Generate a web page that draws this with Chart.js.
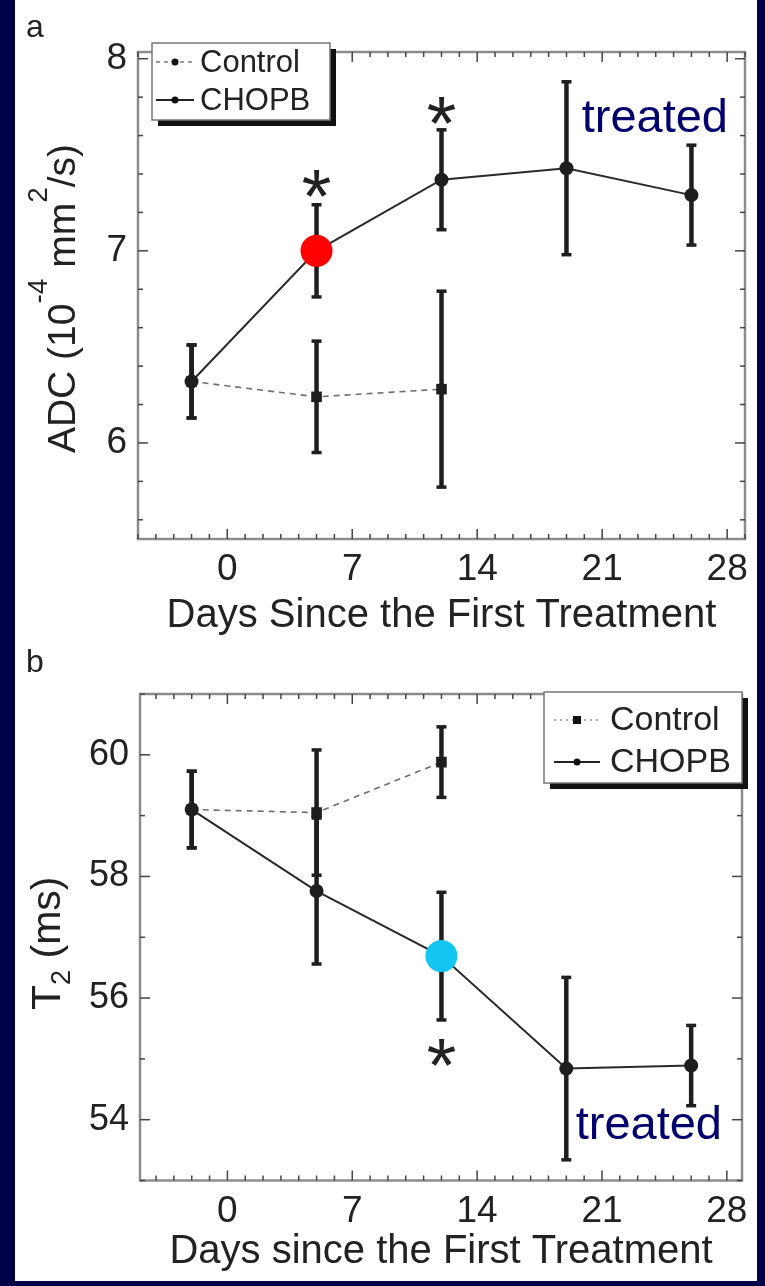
<!DOCTYPE html>
<html>
<head>
<meta charset="utf-8">
<script src="https://cdn.jsdelivr.net/npm/chart.js@4.4.1/dist/chart.umd.min.js"></script>
<style>
  html, body { margin: 0; padding: 0; background: #000046; }
  body { width: 765px; height: 1286px; position: relative; overflow: hidden; }
  #sheet { position: absolute; left: 15px; top: 0; width: 742px; height: 1281px; background: #fff; }
  canvas { position: absolute; left: 0; }
  #chartA { top: 0; }
  #chartB { top: 640px; }
</style>
</head>
<body>
<div id="sheet"></div>
<canvas id="chartA" width="765" height="640"></canvas>
<canvas id="chartB" width="765" height="646"></canvas>
<script>
// values (mean +/- error)
const seriesNames = ['Control', 'CHOPB'];
const xTicks = [0, 7, 14, 21, 28];

// a: ADC (10^-4 mm^2/s)
const controlDaysA = [-2, 5, 12];
const controlADC = [6.32, 6.24, 6.28];
const controlADCErr = [0.19, 0.29, 0.51];
const chopbDaysA = [-2, 5, 12, 19, 26];
const chopbADC = [6.32, 7.0, 7.37, 7.43, 7.29];
const chopbADCErr = [0.19, 0.24, 0.26, 0.45, 0.26];
const adcTicks = [6, 7, 8];
const highlightDayA = [5];
const highlightADC = [7.0];
const starDaysA = [5, 12];
const starADC = [7.38, 7.76];

// b: T2 (ms)
const controlDaysB = [-2, 5, 12];
const controlT2 = [59.1, 59.05, 59.88];
const controlT2Err = [0.63, 1.03, 0.58];
const chopbDaysB = [-2, 5, 12, 19, 26];
const chopbT2 = [59.1, 57.76, 56.69, 54.84, 54.89];
const chopbT2Err = [0.63, 1.2, 1.05, 1.5, 0.66];
const t2Ticks = [54, 56, 58, 60];
const highlightDayB = [12];
const highlightT2 = [56.69];
const starDaysB = [12];
const starT2 = [55.19];

const FONT = "'Liberation Sans', Arial, Helvetica, sans-serif";
const INK = '#1e1e1e';

const pts = (xs, ys) => xs.map((x, i) => ({ x, y: ys[i] }));

function line(ctx, x1, y1, x2, y2) {
  ctx.beginPath();
  ctx.moveTo(x1, y1);
  ctx.lineTo(x2, y2);
  ctx.stroke();
}

// text with super/subscript pieces, optionally rotated for the y title
function drawRich(ctx, segs, size, cx, cy, vertical) {
  let total = 0;
  segs.forEach(s => {
    ctx.font = `${Math.round(size * (s.s || 1))}px ${FONT}`;
    s.w = ctx.measureText(s.t).width;
    total += s.w;
  });
  ctx.save();
  ctx.translate(cx, cy);
  if (vertical) ctx.rotate(-Math.PI / 2);
  ctx.textBaseline = 'alphabetic';
  ctx.textAlign = 'left';
  let x = -total / 2;
  segs.forEach(s => {
    ctx.font = `${Math.round(size * (s.s || 1))}px ${FONT}`;
    ctx.fillText(s.t, x, -(s.dy || 0) * size);
    x += s.w;
  });
  ctx.restore();
}

const errorBars = {
  id: 'errorBars',
  beforeDatasetsDraw(chart) {
    const { ctx, scales: { x, y } } = chart;
    ctx.save();
    ctx.strokeStyle = INK;
    chart.data.datasets.forEach(ds => {
      if (!ds.errors) return;
      ds.data.forEach((p, j) => {
        const px = x.getPixelForValue(p.x);
        const top = y.getPixelForValue(p.y + ds.errors[j]);
        const bot = y.getPixelForValue(p.y - ds.errors[j]);
        ctx.lineWidth = 4.5;
        line(ctx, px, top, px, bot);
        ctx.lineWidth = 3.5;
        line(ctx, px - 5, top, px + 5, top);
        line(ctx, px - 5, bot, px + 5, bot);
      });
    });
    ctx.restore();
  }
};

const decor = {
  id: 'decor',
  afterDraw(chart, args, o) {
    const { ctx, chartArea: ca, scales: { x, y } } = chart;
    ctx.save();

    // frame
    ctx.strokeStyle = '#8c8c8c';
    ctx.lineWidth = 2.5;
    ctx.strokeRect(ca.left, ca.top, ca.right - ca.left, ca.bottom - ca.top);

    // inward ticks on all four sides
    ctx.strokeStyle = '#444';
    ctx.lineWidth = 1.5;
    for (let d = Math.ceil(x.min); d <= Math.floor(x.max); d++) {
      const px = x.getPixelForValue(d);
      const len = d % 7 === 0 ? 10 : 5;
      line(ctx, px, ca.bottom, px, ca.bottom - len);
      line(ctx, px, ca.top, px, ca.top + len);
    }
    const step = o.yMinor;
    for (let v = Math.ceil(y.min / step) * step; v <= y.max + 1e-9; v += step) {
      const py = y.getPixelForValue(v);
      const major = o.yMajor.some(m => Math.abs(m - v) < 1e-6);
      const len = major ? 10 : 5;
      line(ctx, ca.left, py, ca.left + len, py);
      line(ctx, ca.right, py, ca.right - len, py);
    }

    ctx.fillStyle = '#222';
    // panel letter
    ctx.font = `32px ${FONT}`;
    ctx.textAlign = 'left';
    ctx.textBaseline = 'alphabetic';
    ctx.fillText(o.letter, 26, o.letterY);

    // axis titles
    ctx.font = `40px ${FONT}`;
    ctx.textAlign = 'center';
    ctx.fillText(o.xTitle, (ca.left + ca.right) / 2, ca.bottom + o.xTitleGap);
    drawRich(ctx, o.yTitle, o.yTitleSize, o.yTitleX, (ca.top + ca.bottom) / 2 + o.yTitleShift, true);

    // significance stars
    ctx.font = `76px ${FONT}`;
    ctx.textAlign = 'center';
    o.stars.forEach(s => {
      ctx.fillText('*', x.getPixelForValue(s.x), y.getPixelForValue(s.y) + 44);
    });

    // "treated" note
    ctx.fillStyle = '#00006e';
    ctx.font = `47px ${FONT}`;
    ctx.textAlign = 'right';
    ctx.fillText('treated', ca.right + o.treated.dx, o.treated.fromTop ? ca.top + o.treated.dy : ca.bottom + o.treated.dy);

    // legend box with drop shadow
    const L = o.legend;
    ctx.fillStyle = '#111';
    ctx.fillRect(L.x + 6, L.y + 6, L.w, L.h);
    ctx.fillStyle = '#fff';
    ctx.fillRect(L.x, L.y, L.w, L.h);
    ctx.strokeStyle = '#777';
    ctx.lineWidth = 1.5;
    ctx.strokeRect(L.x, L.y, L.w, L.h);
    chart.data.datasets.slice(0, 2).forEach((ds, i) => {
      const ry = L.y + L.rows[i];
      ctx.strokeStyle = i === 0 ? '#555' : '#222';
      ctx.lineWidth = i === 0 ? 1.2 : 2;
      ctx.setLineDash(i === 0 ? L.dash : []);
      line(ctx, L.x + L.s0, ry, L.x + L.s1, ry);
      ctx.setLineDash([]);
      ctx.fillStyle = '#111';
      const mx = L.x + (L.s0 + L.s1) / 2;
      if (i === 0 && L.square) {
        ctx.fillRect(mx - 4, ry - 4, 8, 8);
      } else {
        ctx.beginPath();
        ctx.arc(mx, ry, 3.5, 0, Math.PI * 2);
        ctx.fill();
      }
      ctx.fillStyle = '#222';
      ctx.font = `${L.size}px ${FONT}`;
      ctx.textAlign = 'left';
      ctx.textBaseline = 'middle';
      ctx.fillText(ds.label, L.x + L.tx, ry + 1);
    });
    ctx.restore();
  }
};

function makeChart(id, cfg) {
  const datasets = [
    {
      label: seriesNames[0],
      data: pts(cfg.cDays, cfg.cVals),
      errors: cfg.cErr,
      borderColor: '#6e6e6e',
      borderWidth: 1.6,
      borderDash: [6, 5],
      pointStyle: 'rect',
      pointRadius: 7.5,
      pointBackgroundColor: INK,
      pointBorderWidth: 0,
      order: 2
    },
    {
      label: seriesNames[1],
      data: pts(cfg.bDays, cfg.bVals),
      errors: cfg.bErr,
      borderColor: '#2a2a2a',
      borderWidth: 2,
      pointStyle: 'circle',
      pointRadius: 7,
      pointBackgroundColor: INK,
      pointBorderWidth: 0,
      order: 1
    },
    {
      label: 'highlight',
      data: pts(cfg.hDays, cfg.hVals),
      showLine: false,
      pointRadius: 16,
      pointBackgroundColor: cfg.hColor,
      pointBorderWidth: 0,
      order: 0
    }
  ];
  return new Chart(document.getElementById(id), {
    type: 'line',
    data: { datasets },
    options: {
      responsive: false,
      animation: false,
      layout: { padding: cfg.padding },
      plugins: {
        legend: { display: false },
        tooltip: { enabled: false },
        decor: cfg.decor
      },
      scales: {
        x: {
          type: 'linear',
          min: cfg.xMin,
          max: cfg.xMax,
          afterBuildTicks: s => { s.ticks = xTicks.map(v => ({ value: v })); },
          afterFit: s => { s.height = cfg.xHeight; },
          grid: { display: false, drawTicks: false },
          border: { display: false },
          ticks: { autoSkip: false, maxRotation: 0, padding: 9, color: '#222', font: { family: FONT, size: 37 } }
        },
        y: {
          min: cfg.yMin,
          max: cfg.yMax,
          afterBuildTicks: s => { s.ticks = cfg.yTicks.map(v => ({ value: v })); },
          afterFit: s => { s.width = cfg.yWidth; },
          grid: { display: false, drawTicks: false },
          border: { display: false },
          ticks: { padding: 11, color: '#222', font: { family: FONT, size: cfg.yFont } }
        }
      }
    },
    plugins: [errorBars, decor]
  });
}

makeChart('chartA', {
  cDays: controlDaysA, cVals: controlADC, cErr: controlADCErr,
  bDays: chopbDaysA, bVals: chopbADC, bErr: chopbADCErr,
  hDays: highlightDayA, hVals: highlightADC, hColor: '#ff0000',
  xMin: -5, xMax: 29, yMin: 5.5, yMax: 8.035, yTicks: adcTicks, yFont: 37,
  padding: { left: 0, top: 52, right: 20, bottom: 0 },
  xHeight: 101, yWidth: 138,
  decor: {
    letter: 'a', letterY: 37,
    xTitle: 'Days Since the First Treatment', xTitleGap: 88,
    yTitle: [{ t: 'ADC (10' }, { t: '-4', s: 0.72, dy: 0.72 }, { t: ' mm' }, { t: '2', s: 0.72, dy: 0.72 }, { t: '/s)' }],
    yTitleSize: 39, yTitleX: 75, yTitleShift: 3,
    yMinor: 0.2, yMajor: adcTicks,
    stars: pts(starDaysA, starADC),
    treated: { dx: -17, dy: 80, fromTop: true },
    legend: { x: 152, y: 43, w: 178, h: 77, rows: [19, 57], s0: 4, s1: 42, tx: 48, size: 31, dash: [4, 4], square: false }
  }
});

makeChart('chartB', {
  cDays: controlDaysB, cVals: controlT2, cErr: controlT2Err,
  bDays: chopbDaysB, bVals: chopbT2, bErr: chopbT2Err,
  hDays: highlightDayB, hVals: highlightT2, hColor: '#13c6f2',
  xMin: -4.9, xMax: 28.85, yMin: 53, yMax: 61, yTicks: t2Ticks, yFont: 36,
  padding: { left: 0, top: 54, right: 23, bottom: 0 },
  xHeight: 105.5, yWidth: 140,
  decor: {
    letter: 'b', letterY: 32,
    xTitle: 'Days since the First Treatment', xTitleGap: 82,
    yTitle: [{ t: 'T' }, { t: '2', s: 0.65, dy: -0.25 }, { t: ' (ms)' }],
    yTitleSize: 41, yTitleX: 60, yTitleShift: 6,
    yMinor: 1, yMajor: t2Ticks,
    stars: pts(starDaysB, starT2),
    treated: { dx: -20, dy: -42, fromTop: false },
    legend: { x: 544, y: 52, w: 198, h: 91, rows: [28, 70], s0: 10, s1: 56, tx: 66, size: 34, dash: [2, 4], square: true }
  }
});
</script>
</body>
</html>
